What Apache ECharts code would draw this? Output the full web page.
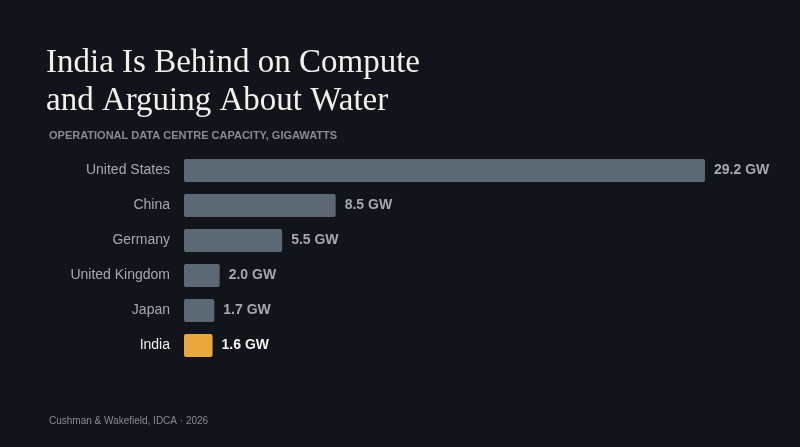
<!DOCTYPE html><html><head><meta charset="utf-8"><script src="https://cdn.jsdelivr.net/npm/echarts@6/dist/echarts.min.js"></script>
<style>html,body{margin:0;background:#12141b}#c{width:800px;height:447px}</style></head><body><div id="c"></div><script>
const categories=["United States","China","Germany","United Kingdom","Japan","India"];
const values=[29.2,8.5,5.5,2.0,1.7,1.6];
const highlight="India";
const chart=echarts.init(document.getElementById('c'));
chart.setOption({
backgroundColor:'#12141b',
title:[{text:'India Is Behind on Compute\nand Arguing About Water',left:41,top:39,textStyle:{fontFamily:'Liberation Serif',fontWeight:'normal',fontSize:33,lineHeight:38,color:'#f2f0ea'}},
{text:'OPERATIONAL DATA CENTRE CAPACITY, GIGAWATTS',left:44,top:125,textStyle:{fontFamily:'Liberation Sans',fontWeight:'bold',fontSize:11,color:'#868c96'}},
{text:'Cushman & Wakefield, IDCA · 2026',left:44,top:411,textStyle:{fontFamily:'Liberation Sans',fontWeight:'normal',fontSize:10,color:'#868c96'}}],
grid:{left:184,right:95,top:153,bottom:84},
xAxis:{type:'value',min:0,max:29.2,show:false},
yAxis:{type:'category',inverse:true,data:categories,axisLine:{show:false},axisTick:{show:false},
axisLabel:{margin:14,fontFamily:'Liberation Sans',fontSize:14,color:(v)=>v===highlight?'#f2f0ea':'#a4a9b1'}},
series:[{type:'bar',barWidth:23,data:values.map((v,i)=>({value:v,itemStyle:{color:categories[i]===highlight?'#e9a83f':'#5d6875',borderRadius:2},
label:{color:categories[i]===highlight?'#f2f0ea':'#a4a9b1'}})),
label:{show:true,position:'right',distance:9,fontFamily:'Liberation Sans',fontWeight:'bold',fontSize:14,formatter:p=>p.value.toFixed(1)+' GW'}}]
});
</script></body></html>
